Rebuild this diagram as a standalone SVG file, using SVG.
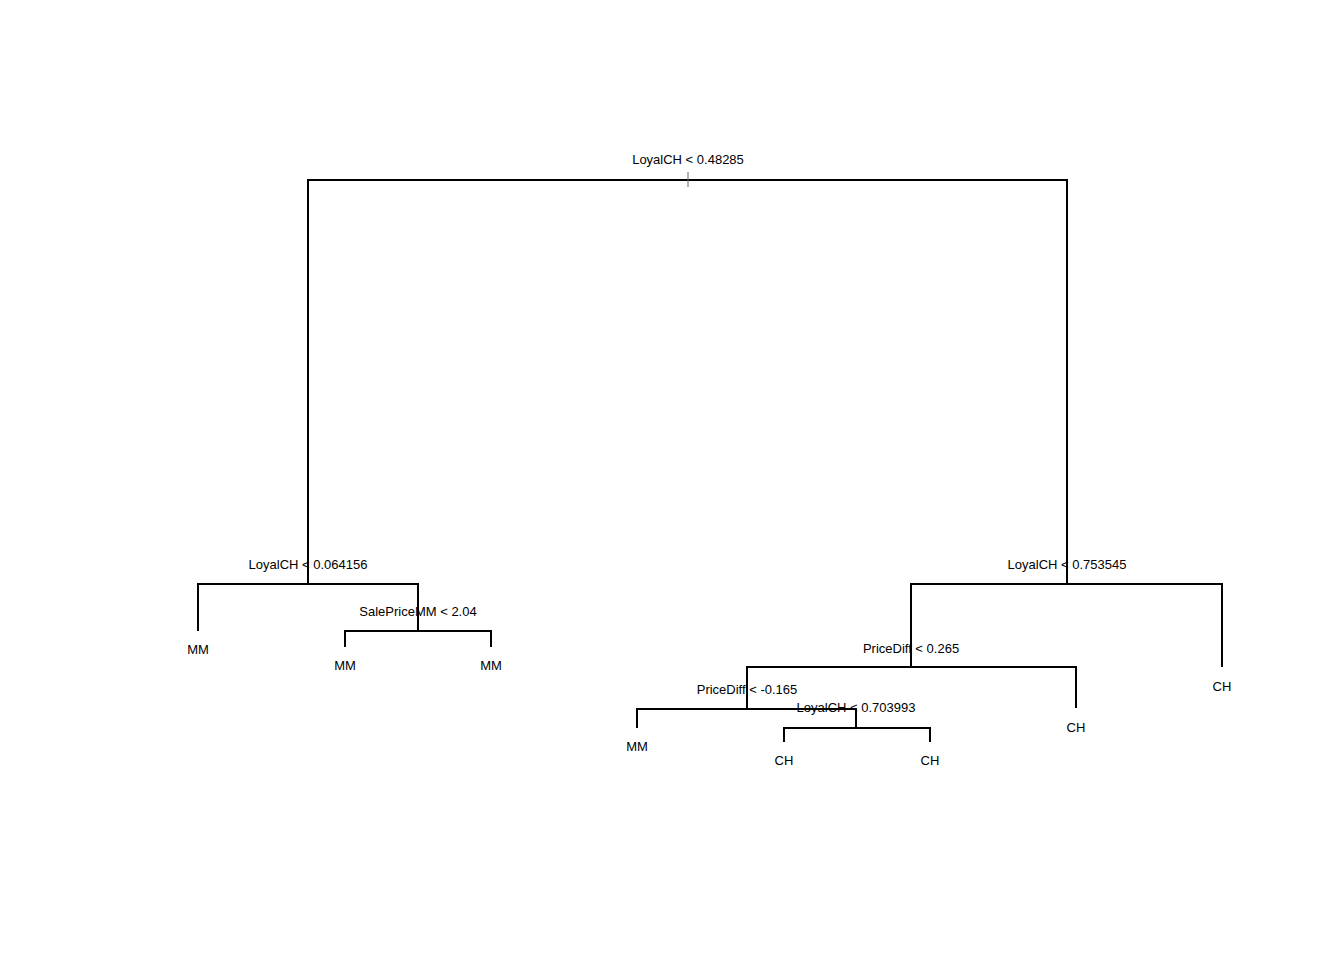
<svg xmlns="http://www.w3.org/2000/svg" width="1344" height="960" viewBox="0 0 1344 960">
<style>
.e{fill:none;stroke:#000;stroke-width:2;stroke-linecap:butt;stroke-linejoin:miter}
text{font-family:"Liberation Sans",Arial,sans-serif;font-size:13px;fill:#000;text-anchor:middle}
</style>
<rect width="1344" height="960" fill="#fff"/>
<g id="connectors">
<path class="e" d="M308,584V180H1067V584"/>
<path class="e" d="M198,631V584H418V631"/>
<path class="e" d="M345,647V631H491V647"/>
<path class="e" d="M911,667V584H1222V667"/>
<path class="e" d="M747,709V667H1076V708"/>
<path class="e" d="M637,728V709H856V728"/>
<path class="e" d="M784,742V728H930V742"/>
<line x1="688" y1="172" x2="688" y2="187" stroke="#666" stroke-width="1"/>
</g>
<g id="n1"><text x="688" y="164">LoyalCH &lt; 0.48285</text></g>
<g id="n2"><text x="308" y="569">LoyalCH &lt; 0.064156</text></g>
<g id="n3"><text x="198" y="654">MM</text></g>
<g id="n4"><text x="418" y="616">SalePriceMM &lt; 2.04</text></g>
<g id="n5"><text x="345" y="670">MM</text></g>
<g id="n6"><text x="491" y="670">MM</text></g>
<g id="n7"><text x="1067" y="569">LoyalCH &lt; 0.753545</text></g>
<g id="n8"><text x="911" y="653">PriceDiff &lt; 0.265</text></g>
<g id="n9"><text x="747" y="694">PriceDiff &lt; -0.165</text></g>
<g id="n10"><text x="637" y="751">MM</text></g>
<g id="n11"><text x="856" y="712">LoyalCH &lt; 0.703993</text></g>
<g id="n12"><text x="784" y="765">CH</text></g>
<g id="n13"><text x="930" y="765">CH</text></g>
<g id="n14"><text x="1076" y="732">CH</text></g>
<g id="n15"><text x="1222" y="691">CH</text></g>
</svg>
